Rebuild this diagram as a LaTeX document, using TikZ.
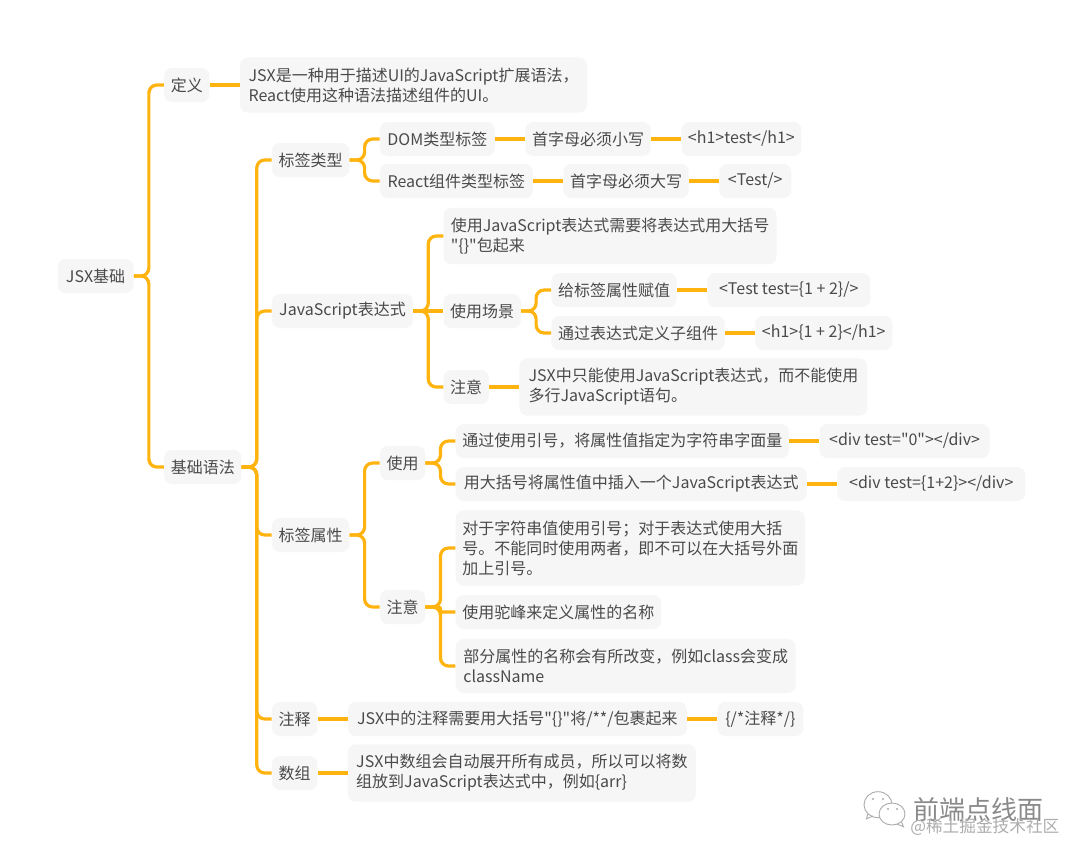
\documentclass[tikz,border=0pt]{standalone}
\usepackage{fontspec}
\newfontfamily\mapfont{Noto Sans CJK SC}
\usetikzlibrary{positioning,shapes.geometric}
\definecolor{cBranch}{HTML}{FFB30F}
\definecolor{cBox}{HTML}{F6F6F6}
\definecolor{cInk}{HTML}{4A4A4A}
\definecolor{cMark}{HTML}{8A8A8A}
\tikzset{
  topic/.style  = {fill=cBox, text=cInk, rounded corners=6pt, align=left,
                   inner xsep=5pt, inner ysep=0pt, minimum height=25.5pt,
                   font=\mapfont\fontsize{12}{15}\selectfont},
  multi/.style  = {topic, inner ysep=7.6pt},
  branch/.style = {draw=cBranch, line width=2.4pt, rounded corners=6pt},
  wmark/.style  = {inner sep=0pt, text=cMark},
  bubble/.style = {ellipse, draw=cMark!70, fill=white, line width=.7pt, inner sep=0pt},
  eye/.style    = {circle, fill=cMark!70, minimum size=1.6pt, inner sep=0pt},
}
\begin{document}
\begin{tikzpicture}[node distance=0pt and 22.5pt]
  \useasboundingbox[fill=white] (0,0) rectangle (810pt,-643.5pt);
  % ---- root ----
  \node[topic, anchor=west, minimum width=57pt] (jsx) at (43pt,-207pt) {JSX基础};
  \node[topic, right=of jsx, yshift=143.25pt] (define) {定义};
  \node[multi, right=of define, minimum width=260.25pt] (definetext)
    {JSX是一种用于描述UI的JavaScript扩展语法，\\React使用这种语法描述组件的UI。};
  \node[topic, right=of jsx, yshift=-143.25pt] (syntax) {基础语法};
  % ---- tag types ----
  \node[topic, right=of syntax, yshift=230.25pt] (tagtype) {标签类型};
  \node[topic, right=of tagtype, yshift=15.75pt, minimum width=86.25pt] (dom) {DOM类型标签};
  \node[topic, right=of dom] (domrule) {首字母必须小写};
  \node[topic, right=of domrule, minimum width=89.25pt] (domcode) {<h1>test</h1>};
  \node[topic, right=of tagtype, yshift=-15.75pt, minimum width=114.75pt] (comp) {React组件类型标签};
  \node[topic, right=of comp] (comprule) {首字母必须大写};
  \node[topic, right=of comprule, minimum width=54pt] (compcode) {<Test/>};
  % ---- expressions ----
  \node[topic, right=of syntax, yshift=117pt, minimum width=105.75pt] (expr) {JavaScript表达式};
  \node[multi, right=of expr, yshift=56.25pt, minimum width=249.75pt] (exprwrap)
    {使用JavaScript表达式需要将表达式用大括号\\"\{\}"包起来};
  \node[topic, right=of expr] (scene) {使用场景};
  \node[topic, right=of scene, yshift=15.75pt] (assign) {给标签属性赋值};
  \node[topic, right=of assign, minimum width=122.25pt] (assigncode) {<Test test=\{1 + 2\}/>};
  \node[topic, right=of scene, yshift=-16.5pt] (child) {通过表达式定义子组件};
  \node[topic, right=of child, minimum width=102.75pt] (childcode) {<h1>\{1 + 2\}</h1>};
  \node[topic, right=of expr, yshift=-57pt] (exprnote) {注意};
  \node[multi, right=of exprnote, minimum width=261pt] (exprnotetext)
    {JSX中只能使用JavaScript表达式，而不能使用\\多行JavaScript语句。};
  % ---- attributes ----
  \node[topic, right=of syntax, yshift=-51pt] (attr) {标签属性};
  \node[topic, right=of attr, yshift=54pt] (use) {使用};
  \node[topic, right=of use, yshift=16.5pt] (quote) {通过使用引号，将属性值指定为字符串字面量};
  \node[topic, right=of quote, minimum width=127.5pt] (quotecode) {<div test="0"></div>};
  \node[topic, right=of use, yshift=-15.75pt, minimum width=263.25pt] (brace) {用大括号将属性值中插入一个JavaScript表达式};
  \node[topic, right=of brace, minimum width=141pt] (bracecode) {<div test=\{1+2\}></div>};
  \node[topic, right=of attr, yshift=-54pt] (attrnote) {注意};
  \node[multi, right=of attrnote, yshift=44.25pt] (both)
    {对于字符串值使用引号；对于表达式使用大括\\号。不能同时使用两者，即不可以在大括号外面\\加上引号。};
  \node[topic, right=of attrnote, yshift=-3.75pt] (camel) {使用驼峰来定义属性的名称};
  \node[multi, right=of attrnote, yshift=-44.25pt, minimum width=255pt] (rename)
    {部分属性的名称会有所改变，例如class会变成\\className};
  % ---- comments, arrays ----
  \node[topic, right=of syntax, yshift=-189pt] (comment) {注释};
  \node[topic, right=of comment, minimum width=254.25pt] (commenttext) {JSX中的注释需要用大括号"\{\}"将/**/包裹起来};
  \node[topic, right=of commenttext, minimum width=64.5pt] (commentcode) {\{/*注释*/\}};
  \node[topic, right=of syntax, yshift=-229.5pt] (array) {数组};
  \node[multi, right=of array, minimum width=261pt] (arraytext)
    {JSX中数组会自动展开所有成员，所以可以将数\\组放到JavaScript表达式中，例如\{arr\}};
  % ---- branches ----
  \foreach \from/\to in {jsx/define, jsx/syntax,
      syntax/tagtype, tagtype/dom, tagtype/comp,
      syntax/expr, expr/exprwrap, scene/assign, scene/child, expr/exprnote,
      syntax/attr, attr/use, use/quote, use/brace,
      attr/attrnote, attrnote/both, attrnote/rename,
      syntax/comment, syntax/array}
    \draw[branch] (\from.east) -- ++(11.25pt,0) |- (\to.west);
  \draw[branch, rounded corners=1.5pt] (attrnote.east) -- ++(11.25pt,0) |- (camel.west);
  \foreach \from/\to in {define/definetext, dom/domrule, domrule/domcode,
      comp/comprule, comprule/compcode, expr/scene, assign/assigncode,
      child/childcode, exprnote/exprnotetext, quote/quotecode, brace/bracecode,
      comment/commenttext, commenttext/commentcode, array/arraytext}
    \draw[branch] (\from.east) -- (\to.west);
  % ---- watermark ----
  \node[bubble, minimum width=21pt, minimum height=19.5pt] (leftbubble) at (658.5pt,-603.5pt) {};
  \draw[cMark!70, line width=.7pt] (leftbubble.south west) -- ++(-1pt,-3.5pt) -- ++(5pt,2.2pt);
  \node[bubble, minimum width=19.5pt, minimum height=16.5pt] (rightbubble) at (669pt,-610.5pt) {};
  \draw[cMark!70, line width=.7pt] (rightbubble.south east) -- ++(1.5pt,-3.5pt) -- ++(-5pt,2.2pt);
  \node[eye] (eyea) at (654.75pt,-599.25pt) {};
  \node[eye] (eyeb) at (662.25pt,-599.25pt) {};
  \node[eye] (eyec) at (666pt,-606.75pt) {};
  \node[eye] (eyed) at (672.75pt,-606.75pt) {};
  \node[wmark, anchor=west, font=\mapfont\fontsize{19.5}{20}\selectfont] (account) at (684.75pt,-607pt) {前端点线面};
  \node[wmark, anchor=west, text=cMark!70, font=\mapfont\fontsize{12.5}{14}\selectfont] (source) at (682.5pt,-620.5pt) {@稀土掘金技术社区};
\end{tikzpicture}
\end{document}
